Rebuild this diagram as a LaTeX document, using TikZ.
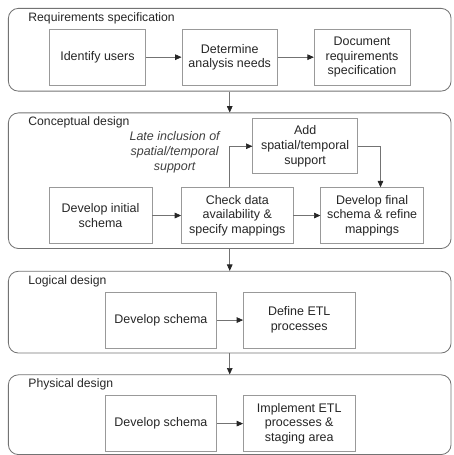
\documentclass[tikz,border=0pt]{standalone}
\usepackage{fontspec}
\setmainfont{Liberation Sans}
\usetikzlibrary{positioning,arrows.meta,calc}
\tikzset{
  panel/.style ={draw=black!55, rounded corners=2.5mm, minimum width=111mm,
                 line width=0.6pt},
  ptitle/.style={font=\fontsize{8.7}{10}\selectfont, text=black!85, inner sep=1pt},
  box/.style   ={draw=black!40, fill=white, minimum height=14mm, minimum width=24mm,
                 align=center, font=\fontsize{8.9}{10.5}\selectfont, text=black!85,
                 line width=0.5pt},
  fl/.style    ={-{Triangle[length=1.6mm,width=1.4mm,color=black!85]},
                 draw=black!55, line width=0.5pt},
  note/.style  ={font=\fontsize{8.9}{10.6}\selectfont\itshape, align=center, text=black!75},
}

\begin{document}
\begin{tikzpicture}[node distance=9mm]
  % phase frames
  \node[panel, minimum height=20.75mm](req){};
  \node[panel, minimum height=34mm, below=5.25mm of req](con){};
  \node[panel, minimum height=20.5mm, below=5.5mm of con](log){};
  \node[panel, minimum height=20mm, below=5.25mm of log](phy){};
  \useasboundingbox ($(req.north west)+(-2mm,2mm)$) rectangle ($(req.north west)+(111.75mm,-111.75mm)$);

  \node[ptitle, below right=0.7mm and 4.7mm of req.north west](reqt){Requirements specification};
  \node[ptitle, below right=0.7mm and 4.7mm of con.north west](cont){Conceptual design};
  \node[ptitle, below right=0.7mm and 4.7mm of log.north west](logt){Logical design};
  \node[ptitle, below right=0.7mm and 4.7mm of phy.north west](phyt){Physical design};

  % requirements
  \node[box, below=5.25mm of req.north](needs){Determine\\analysis needs};
  \node[box, left=of needs](users){Identify users};
  \node[box, right=of needs](docreq){Document\\requirements\\specification};
  \draw[fl](users)--(needs); \draw[fl](needs)--(docreq);

  % conceptual
  \node[box, minimum width=28mm, below=18.75mm of con.north, xshift=1.9mm](check)
        {Check data\\availability \&\\specify mappings};
  \node[box, minimum width=25.75mm, left=7.25mm of check](initial){Develop initial\\schema};
  \node[box, minimum width=25.75mm, right=6.75mm of check](final)
        {Develop final\\schema \& refine\\mappings};
  \node[box, minimum width=26.25mm, minimum height=13.75mm, below=1.5mm of con.north,
        xshift=18.9mm](addst){Add\\spatial/temporal\\support};
  \node[note](late) at ($(addst.west)+(-19.5mm,-1.6mm)$)
        {Late inclusion of\\spatial/temporal\\support};
  \draw[fl](initial)--(check); \draw[fl](check)--(final);
  \draw[fl]([xshift=-1.9mm]check.north) |- (addst.west);
  \draw[fl](addst.east) -| ([xshift=2.1mm]final.north);

  % logical
  \node[box, minimum width=28mm, below=5.25mm of log.north, xshift=-17.25mm](lschema){Develop schema};
  \node[box, minimum width=28mm, right=6.5mm of lschema](etl){Define ETL\\processes};
  \draw[fl](lschema)--(etl);

  % physical
  \node[box, minimum width=28mm, below=5.25mm of phy.north, xshift=-17.25mm](pschema){Develop schema};
  \node[box, minimum width=28mm, right=6.5mm of pschema](impl){Implement ETL\\processes \&\\staging area};
  \draw[fl](pschema)--(impl);

  % phase flow
  \draw[fl](req)--(con); \draw[fl](con)--(log); \draw[fl](log)--(phy);
\end{tikzpicture}
\end{document}
